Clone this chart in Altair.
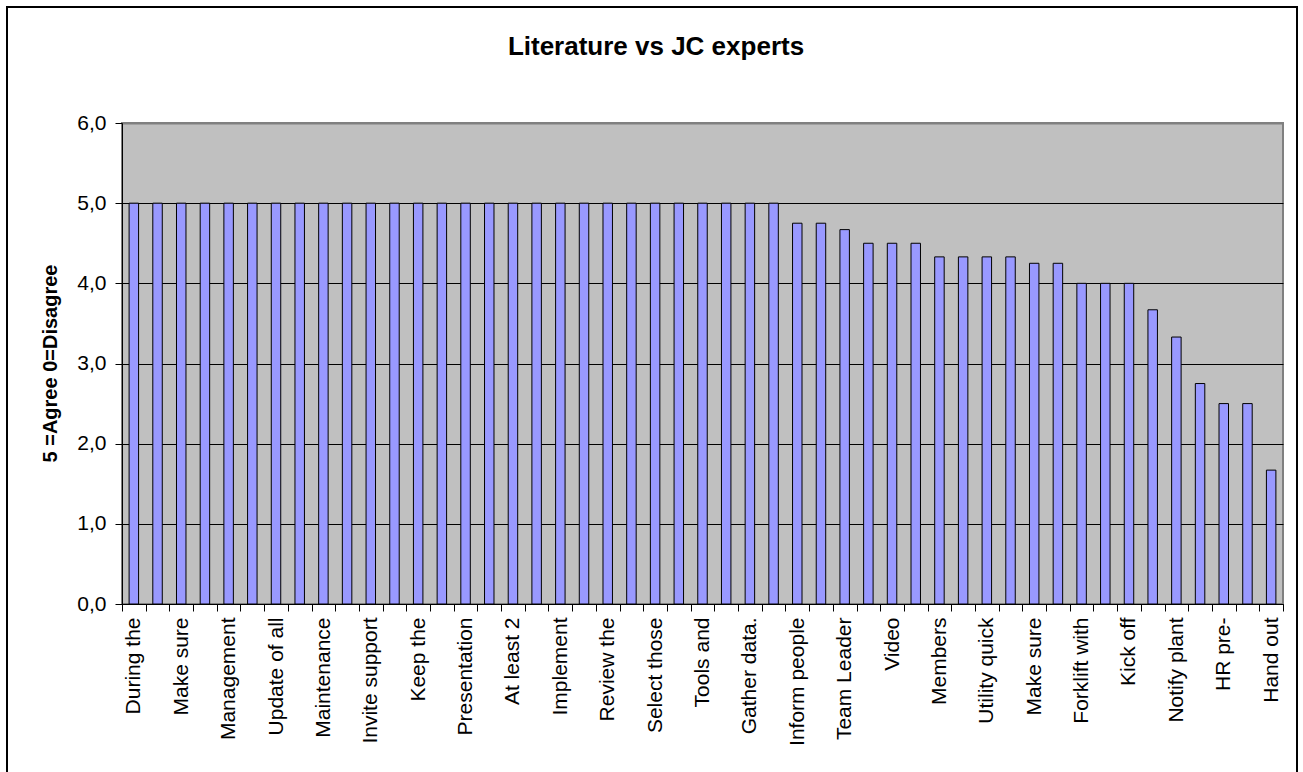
import altair as alt
import pandas as pd

# shown category labels (every second bar carries a label)
labels = [
    "During the", "Make sure", "Management", "Update of all", "Maintenance",
    "Invite support", "Keep the", "Presentation", "At least 2", "Implement",
    "Review the", "Select those", "Tools and", "Gather data.", "Inform people",
    "Team Leader", "Video", "Members", "Utility quick", "Make sure",
    "Forklift with", "Kick off", "Notify plant", "HR pre-", "Hand out",
]

# bar values (5 = Agree, 0 = Disagree)
values = [
    5.0, 5.0, 5.0, 5.0, 5.0, 5.0, 5.0, 5.0, 5.0, 5.0,
    5.0, 5.0, 5.0, 5.0, 5.0, 5.0, 5.0, 5.0, 5.0, 5.0,
    5.0, 5.0, 5.0, 5.0, 5.0, 5.0, 5.0, 5.0,
    4.75, 4.75, 4.67, 4.5, 4.5, 4.5, 4.33, 4.33, 4.33, 4.33,
    4.25, 4.25, 4.0, 4.0, 4.0, 3.67, 3.33, 2.75, 2.5, 2.5, 1.67,
]

y_ticks = [0, 1, 2, 3, 4, 5, 6]
chart_title = "Literature vs JC experts"

df = pd.DataFrame({"idx": list(range(len(values))), "value": values})

label_array = "[" + ",".join("'" + s + "'" for s in labels) + "]"
x_label_expr = f"datum.value % 2 == 0 ? {label_array}[datum.value / 2] : ''"

FONT = "Liberation Sans"

bars = alt.Chart(df).mark_bar(
    width=alt.RelativeBandSize(0.4),
    fill="#9999FF",
    stroke="black",
    strokeWidth=1,
).encode(
    x=alt.X(
        "idx:O",
        sort=None,
        scale=alt.Scale(paddingInner=0, paddingOuter=0),
        axis=alt.Axis(
            title=None,
            labelAngle=-90,
            labelExpr=x_label_expr,
            labelOverlap=False,
            tickBand="extent",
            tickSize=7,
            tickColor="black",
            domainColor="black",
            labelPadding=6,
            labelFont=FONT,
            labelFontSize=21,
            labelColor="black",
            grid=False,
        ),
    ),
    y=alt.Y(
        "value:Q",
        scale=alt.Scale(domain=[0, 6], nice=False),
        axis=alt.Axis(
            values=y_ticks,
            labelExpr="replace(format(datum.value, '.1f'), '.', ',')",
            grid=True,
            gridColor={"condition": {"test": "datum.value == 6", "value": "#808080"}, "value": "black"},
            gridWidth={"condition": {"test": "datum.value == 6", "value": 2}, "value": 1},
            tickSize=7,
            tickColor="black",
            domainColor="black",
            labelPadding=9,
            labelFont=FONT,
            labelFontSize=21,
            labelColor="black",
            title="5 =Agree 0=Disagree",
            titleFont=FONT,
            titleFontSize=20,
            titleFontWeight="bold",
            titleColor="black",
            titleAngle=270,
            titleAlign="center",
            titleBaseline="bottom",
            titleX=-62,
            titleY=240,
        ),
    ),
)

one = pd.DataFrame({"k": [0]})

border = alt.Chart(one).mark_rect(
    fillOpacity=0, stroke="black", strokeWidth=2
).encode(
    x=alt.value(-115), x2=alt.value(1175), y=alt.value(-116), y2=alt.value(660)
)

title = alt.Chart(one).mark_text(
    font=FONT, fontSize=26, fontWeight="bold", color="black",
    align="center", baseline="alphabetic",
).encode(
    x=alt.value(534), y=alt.value(-68), text=alt.value(chart_title)
)

chart = alt.layer(bars, border, title).properties(
    width=1161,
    height=481,
    autosize=alt.AutoSizeParams(type="none"),
    padding={"left": 122, "top": 123, "right": 20, "bottom": 168},
    background="white",
).configure_view(
    fill="#C0C0C0", stroke="#808080", strokeWidth=2
)

chart.save("out.html", embed_options={"renderer": "svg", "actions": False})
